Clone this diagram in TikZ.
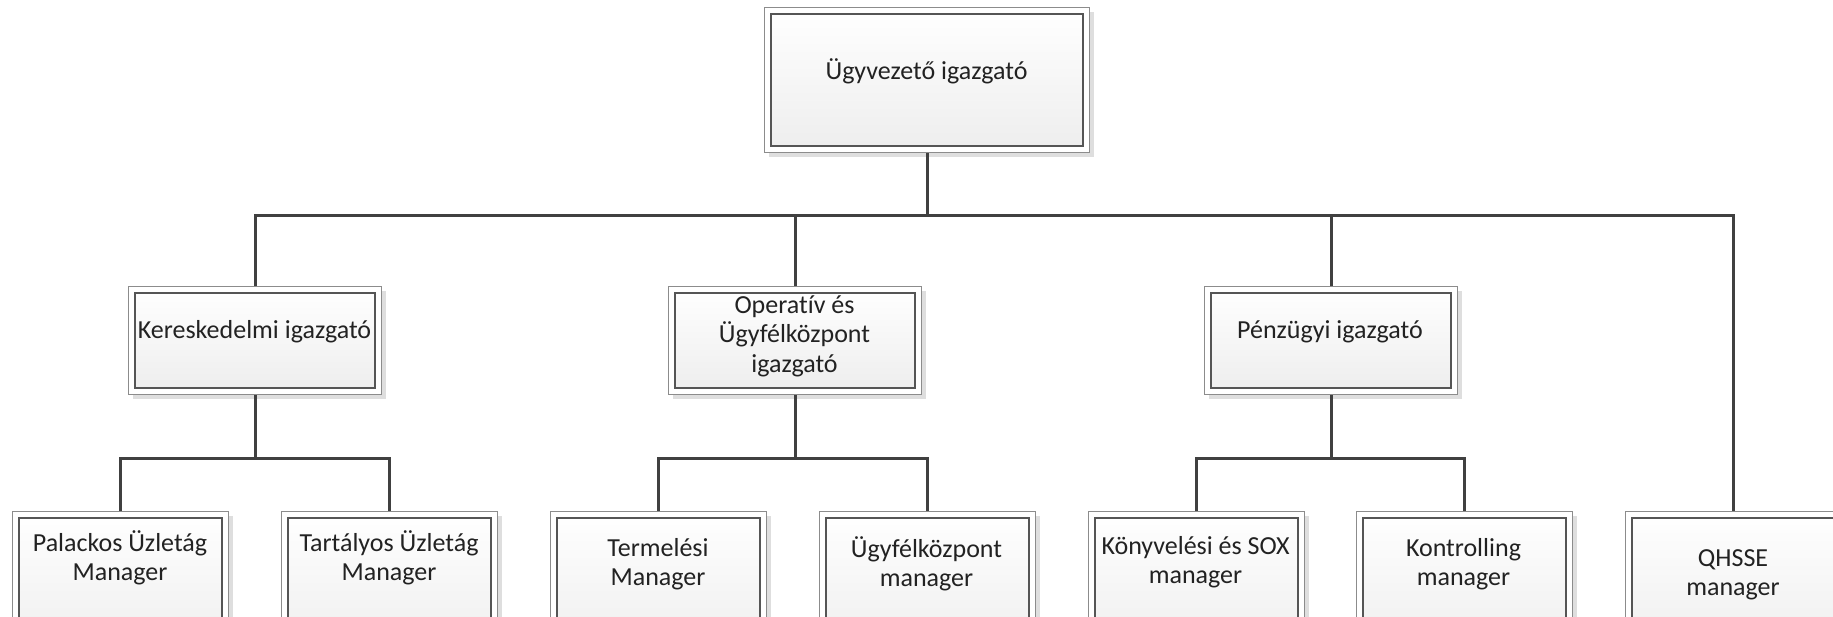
\documentclass[tikz,border=0pt]{standalone}
\usepackage{fontspec}
\setmainfont{Carlito}[Ligatures=NoCommon]
\usetikzlibrary{shadows}
\definecolor{outerc}{HTML}{8C8C8C}
\definecolor{innerc}{HTML}{555555}
\definecolor{connc}{HTML}{404040}
\definecolor{fillbot}{HTML}{EDEDED}
\definecolor{shadc}{HTML}{DEDEDE}
\definecolor{txtc}{HTML}{222222}
\begin{document}
\begin{tikzpicture}[x=1pt,y=-1pt,
  box/.style={rectangle, anchor=north west, draw=outerc, line width=1.3pt, fill=white, inner sep=0pt,
    general shadow={shadow xshift=4pt, shadow yshift=-4pt, fill=shadc},
    path picture={\draw[innerc, line width=2pt, top color=white, bottom color=fillbot]
      ([shift={(6.5pt,-6.5pt)}]path picture bounding box.north west) rectangle
      ([shift={(-6.5pt,6.5pt)}]path picture bounding box.south east);}},
  topbox/.style={box, minimum width=325pt, minimum height=145pt},
  midbox/.style={box, minimum width=253pt, minimum height=108pt},
  lowbox/.style={box, minimum width=216pt, minimum height=150pt},
  txt/.style={font=\fontsize{26}{29.5}\selectfont, align=center, text=txtc, inner sep=0pt},
  conn/.style={draw=connc, line width=3pt}]
\useasboundingbox (0,0) rectangle (1833,616);
% boxes
\node[topbox] (ceo) at (764,7) {};
\node[midbox] (ker) at (128,286) {};
\node[midbox] (op) at (668,286) {};
\node[midbox] (penz) at (1204,286) {};
\node[lowbox] (pal) at (12,511) {};
\node[lowbox] (tar) at (281,511) {};
\node[lowbox] (ter) at (550,511) {};
\node[lowbox] (ugy) at (819,511) {};
\node[lowbox] (kony) at (1088,511) {};
\node[lowbox] (kont) at (1356,511) {};
\node[lowbox] (qh) at (1625,511) {};
% texts
\node[txt] (ceot) at (926.5,71) {Ügyvezető igazgató};
\node[txt] (kert) at (254.5,332) {Kereskedelmi igazgató};
\node[txt] (opt) at (794.5,336) {Operatív és\\Ügyfélközpont\\igazgató};
\node[txt] (penzt) at (1330,332) {Pénzügyi igazgató};
\node[txt] (palt) at (120,558) {Palackos Üzletág\\Manager};
\node[txt] (tart) at (389,558) {Tartályos Üzletág\\Manager};
\node[txt] (tert) at (658,564) {Termelési\\Manager};
\node[txt] (ugyt) at (926.5,564) {Ügyfélközpont\\manager};
\node[txt] (konyt) at (1195.5,562) {Könyvelési és SOX\\manager};
\node[txt] (kontt) at (1463.5,564) {Kontrolling\\manager};
\node[txt] (qht) at (1733,575) {QHSSE\\manager};
% connectors
\coordinate (busa) at (0,215);
\coordinate (busb) at (0,458);
\draw[conn] (ceo.south) -- (ceo.south |- busa);
\draw[conn] (ker.north) |- (qh.north |- busa) -- (qh.north);
\draw[conn] (op.north) -- (op.north |- busa);
\draw[conn] (penz.north) -- (penz.north |- busa);
\draw[conn] (ker.south) -- (ker.south |- busb);
\draw[conn] (pal.north) |- (tar.north |- busb) -- (tar.north);
\draw[conn] (op.south) -- (op.south |- busb);
\draw[conn] (ter.north) |- (ugy.north |- busb) -- (ugy.north);
\draw[conn] (penz.south) -- (penz.south |- busb);
\draw[conn] (kony.north) |- (kont.north |- busb) -- (kont.north);
\end{tikzpicture}
\end{document}
